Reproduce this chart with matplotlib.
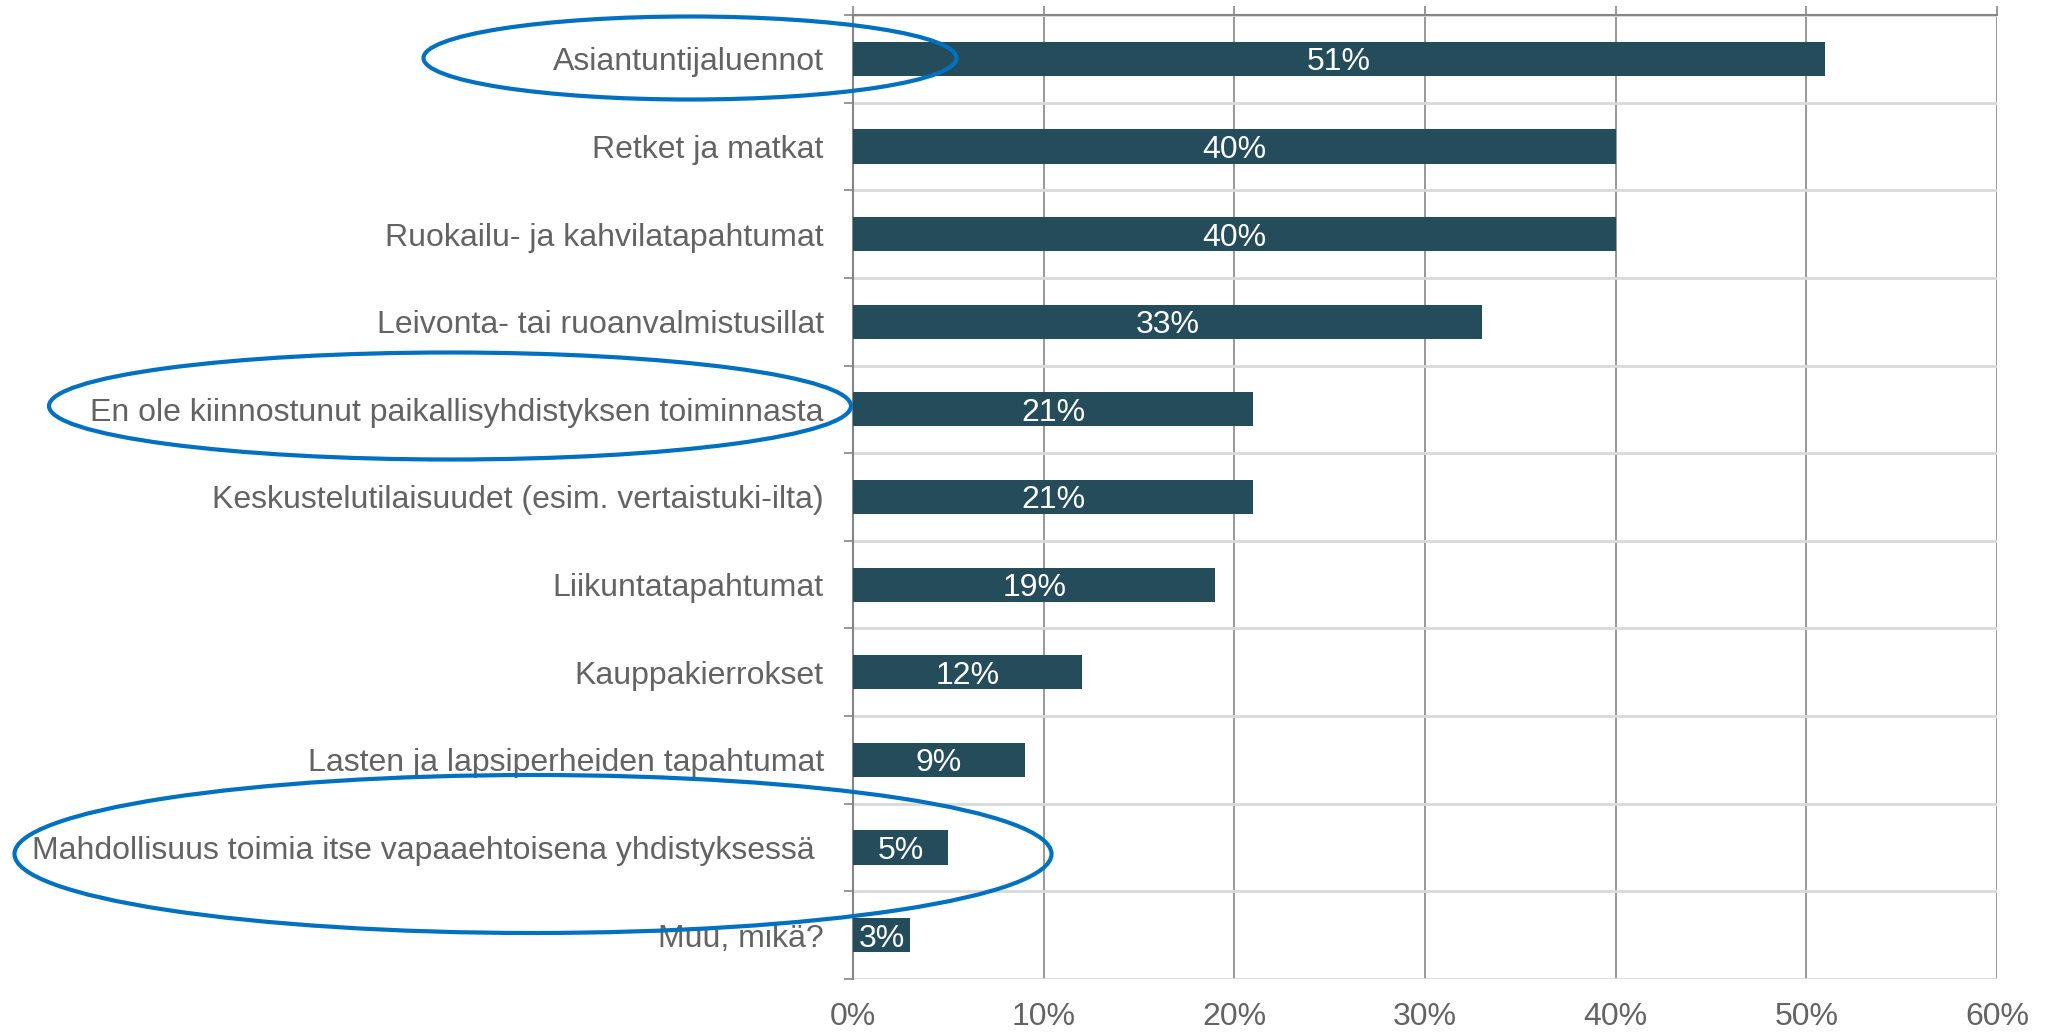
#!/usr/bin/env python3
"""
Survey bar chart - interest in local association activities.
"""

import numpy as np
import matplotlib
matplotlib.use("Agg")
import matplotlib.pyplot as plt
from matplotlib.patches import Ellipse

# Data
categories = [
    "Asiantuntijaluennot",
    "Retket ja matkat",
    "Ruokailu- ja kahvilatapahtumat",
    "Leivonta- tai ruoanvalmistusillat",
    "En ole kiinnostunut paikallisyhdistyksen toiminnasta",
    "Keskustelutilaisuudet (esim. vertaistuki-ilta)",
    "Liikuntatapahtumat",
    "Kauppakierrokset",
    "Lasten ja lapsiperheiden tapahtumat",
    "Mahdollisuus toimia itse vapaaehtoisena yhdistyksessä ",
    "Muu, mikä?",
]
values = [51, 40, 40, 33, 21, 21, 19, 12, 9, 5, 3]
x_ticks = [0, 10, 20, 30, 40, 50, 60]

# highlighted rows: (center x, center y, width, height) in pixels from top-left
highlights = [
    (690, 58, 533, 83),
    (450, 406, 802, 107),
    (533, 854, 1037, 158),
]

BAR_COLOR = '#244C5A'
TEXT_COLOR = '#636363'
RING_COLOR = '#0070C0'
FS = 23

W, H = 2046, 1034
plt.rcParams['font.family'] = ['Liberation Sans', 'DejaVu Sans']

fig = plt.figure(figsize=(W / 100, H / 100), dpi=100)
ax = fig.add_axes([853 / W, 55 / H, 1144 / W, 964 / H])

y = np.arange(len(categories))
ax.barh(y, values, height=0.39, color=BAR_COLOR, zorder=3)

for yi, v in zip(y, values):
    ax.text(v / 2, yi, f"{v}%", ha='center', va='center_baseline', color='white',
            fontsize=FS, zorder=4)

ax.set_xlim(0, 60)
ax.set_ylim(len(categories) - 0.5, -0.5)

ax.set_yticks(y)
ax.set_yticklabels(categories, fontsize=FS, color=TEXT_COLOR, va='center_baseline')
ax.set_yticks(np.arange(-0.5, len(categories), 1), minor=True)
ax.tick_params(axis='y', which='major', length=0, pad=21)
ax.tick_params(axis='y', which='minor', length=6.5, width=1.2, color='#868686')

ax.set_xticks(x_ticks)
ax.set_xticklabels([f"{t}%" for t in x_ticks], fontsize=FS, color=TEXT_COLOR)
ax.tick_params(axis='x', which='major', top=True, bottom=False,
               labeltop=False, labelbottom=True, length=6.5, width=1.2,
               color='#868686', pad=10)

ax.grid(axis='x', which='major', color='#868686', linewidth=1.2, zorder=0)
ax.grid(axis='y', which='minor', color='#D9D9D9', linewidth=2, zorder=0)
ax.set_axisbelow(True)

for side in ['right', 'bottom']:
    ax.spines[side].set_visible(False)
ax.spines['top'].set_color('#868686')
ax.spines['top'].set_linewidth(1.5)
ax.spines['left'].set_color('#868686')
ax.spines['left'].set_linewidth(1.5)

# blue rings around highlighted answers
for cx, cy, w, h in highlights:
    ring = Ellipse((cx / W, 1 - cy / H), w / W, h / H, transform=fig.transFigure,
                   fill=False, edgecolor=RING_COLOR, linewidth=3, zorder=10)
    fig.add_artist(ring)

fig.savefig("out.png", dpi=100)
